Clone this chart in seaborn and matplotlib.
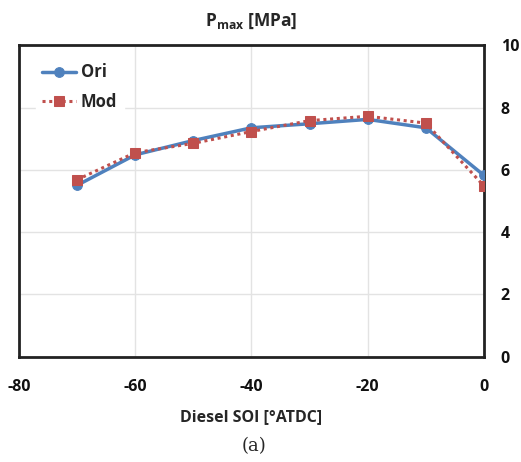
import numpy as np
import pandas as pd
import seaborn as sns
import matplotlib.pyplot as plt

# Chart values.
soi = [-70, -60, -50, -40, -30, -20, -10, 0]
p_ori = [5.50, 6.48, 6.94, 7.35, 7.48, 7.62, 7.35, 5.82]
p_mod = [5.68, 6.55, 6.85, 7.23, 7.58, 7.72, 7.50, 5.48]
x_ticks = [-80, -60, -40, -20, 0]
y_ticks = [0, 2, 4, 6, 8, 10]

df = pd.DataFrame({'soi': soi * 2,
                   'pmax': p_ori + p_mod,
                   'case': ['Ori'] * len(soi) + ['Mod'] * len(soi)})

sns.set_style('white')
plt.rcParams['font.family'] = ['Open Sans', 'DejaVu Sans']
plt.rcParams['axes.unicode_minus'] = False
plt.rcParams['mathtext.fontset'] = 'custom'
plt.rcParams['mathtext.bf'] = 'Open Sans:bold'
plt.rcParams['mathtext.rm'] = 'Open Sans'

fig = plt.figure(figsize=(5.21, 4.62), dpi=100)
ax = fig.add_axes([0.036, 0.228, 0.893, 0.674])

blue = '#4F81BD'
red = '#C0504D'
sns.lineplot(data=df[df.case == 'Ori'], x='soi', y='pmax', ax=ax, color=blue,
             marker='o', markersize=7, markeredgecolor=blue, linewidth=2.5,
             label='Ori', zorder=3)
sns.lineplot(data=df[df.case == 'Mod'], x='soi', y='pmax', ax=ax, color=red,
             marker='s', markersize=7, markeredgecolor=red, linewidth=2.2,
             linestyle=(0, (1, 1.2)), label='Mod', zorder=4)

ax.set_xlim(-80, 0)
ax.set_ylim(0, 10)
ax.set_xticks(x_ticks)
ax.set_yticks(y_ticks)
ax.grid(True, color='#E3E3E3', linewidth=1)
ax.set_axisbelow(True)
for s in ax.spines.values():
    s.set_visible(True)
    s.set_color('#222222')
    s.set_linewidth(2)

ax.yaxis.tick_right()
ax.tick_params(axis='both', length=0, labelsize=11.5, colors='#111111')
ax.tick_params(axis='y', pad=12)
ax.tick_params(axis='x', pad=16)
for lb in ax.get_xticklabels() + ax.get_yticklabels():
    lb.set_fontweight('bold')

ax.set_xlabel('Diesel SOI [°ATDC]', fontsize=11.5, fontweight='bold', labelpad=10)
ax.set_ylabel('')
ax.set_title(r'$\mathbf{P}_{\mathbf{max}}$ [MPa]', fontsize=12.5,
             fontweight='bold', pad=14)

leg = ax.legend(loc='upper left', bbox_to_anchor=(0.015, 0.995), frameon=True,
                fancybox=False, framealpha=1, edgecolor='white',
                prop={'weight': 'bold', 'size': 12}, handlelength=2.0,
                handletextpad=0.3, labelspacing=0.7, borderaxespad=0.6)

fig.text(0.487, 0.035, '(a)', ha='center', va='center', fontsize=13,
         family='DejaVu Serif')

fig.savefig('out.png', dpi=100)
